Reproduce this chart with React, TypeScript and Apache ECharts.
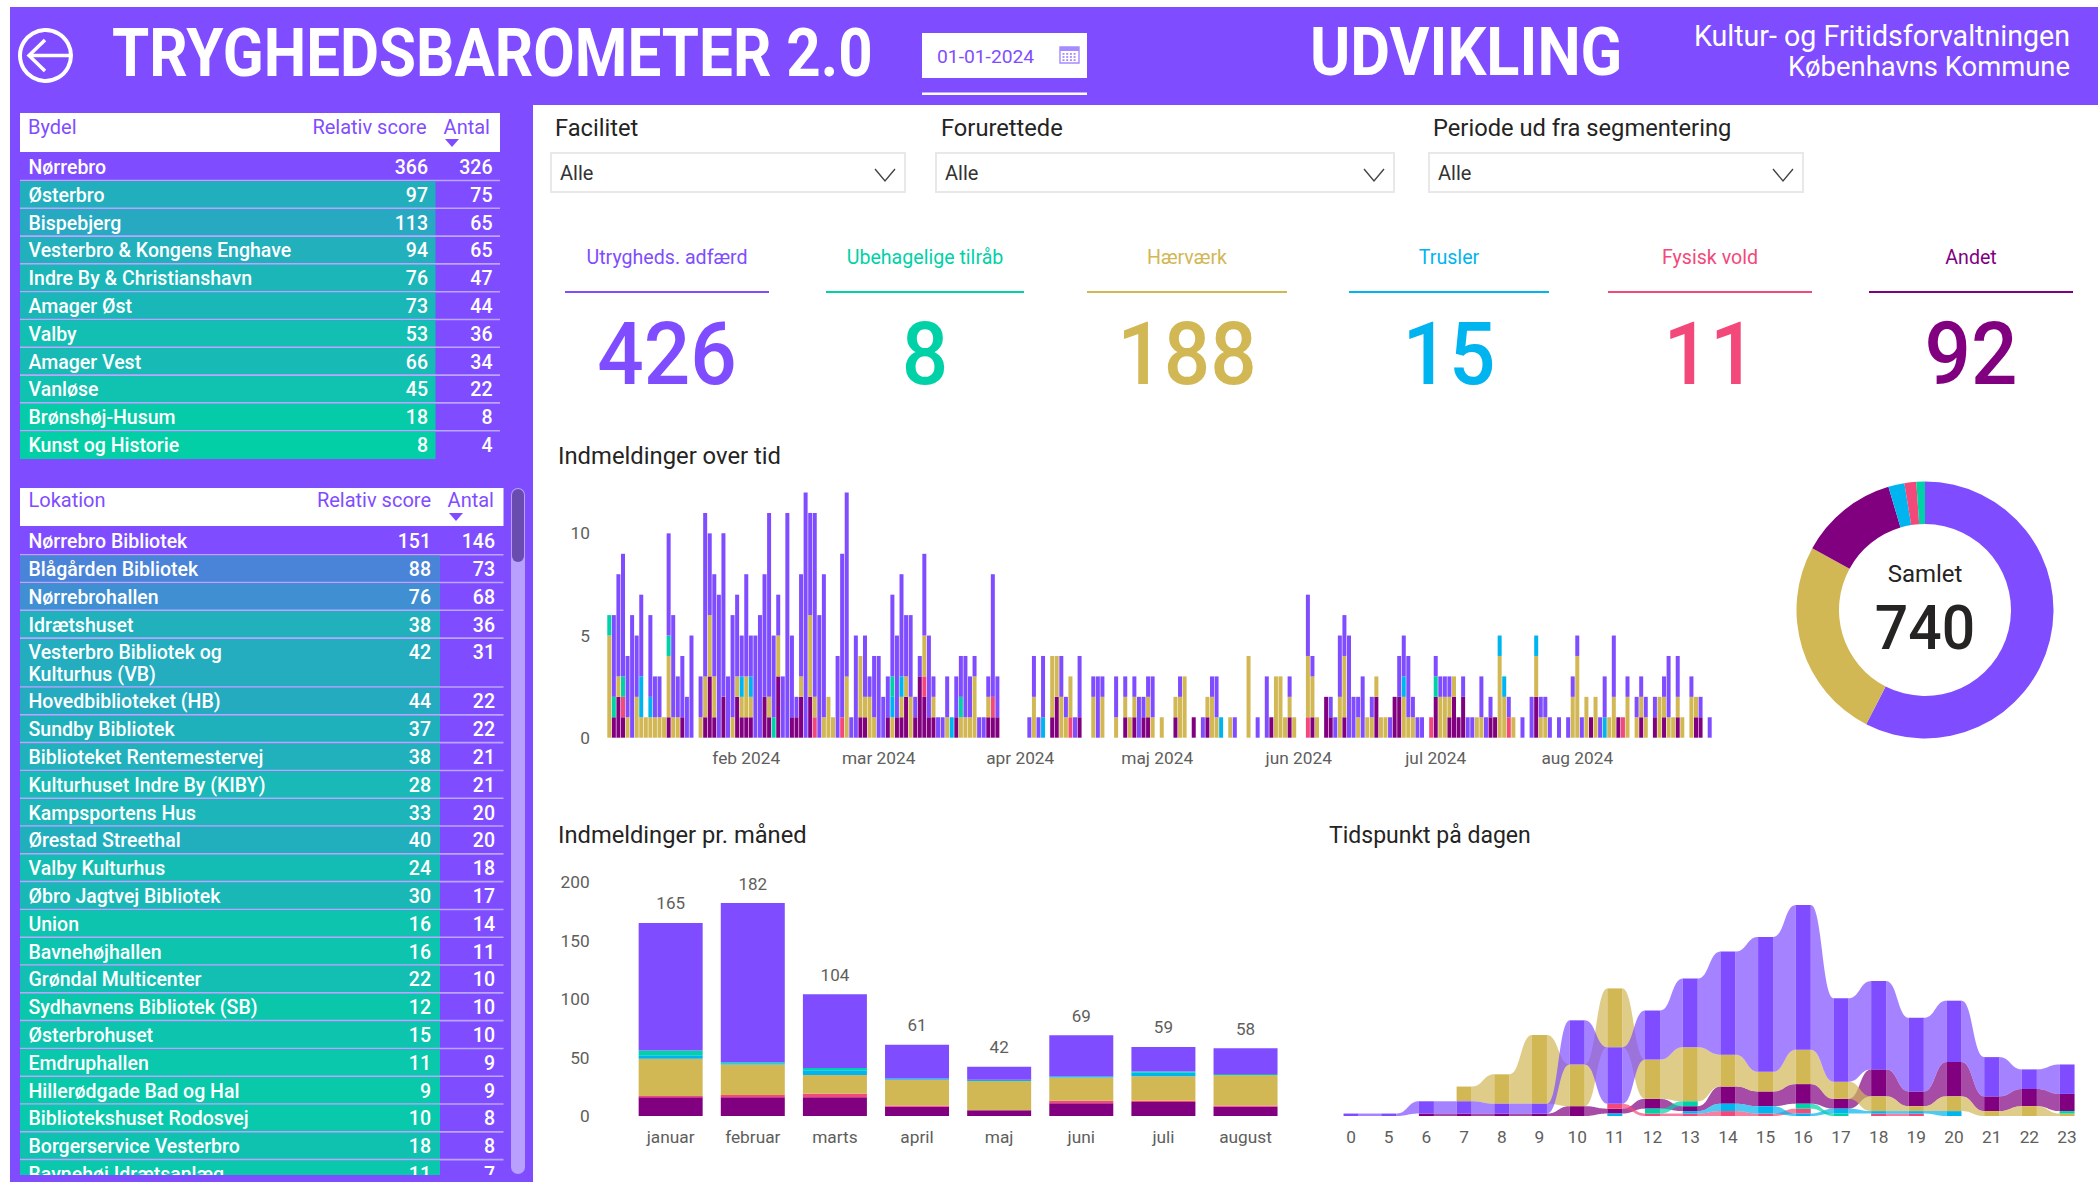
import React, { useEffect, useRef } from "react";
import * as echarts from "echarts";

const FONT = "Roboto";
const VIOLET = "#7F4DFF";
const TEAL = "#00D1A6";
const GOLD = "#D2B755";
const BLUE = "#00B4F0";
const PINK = "#F2497A";
const PLUM = "#800080";
const INK = "#252423";
const AXIS = "#605E5C";
const SEP = "#BCA5FF";

// Tables
const bydelNames = ["Nørrebro", "Østerbro", "Bispebjerg", "Vesterbro & Kongens Enghave", "Indre By & Christianshavn", "Amager Øst", "Valby", "Amager Vest", "Vanløse", "Brønshøj-Husum", "Kunst og Historie"];
const bydelScores = [366, 97, 113, 94, 76, 73, 53, 66, 45, 18, 8];
const bydelAntal = [326, 75, 65, 65, 47, 44, 36, 34, 22, 8, 4];
const lokationNames = ["Nørrebro Bibliotek", "Blågården Bibliotek", "Nørrebrohallen", "Idrætshuset", "Vesterbro Bibliotek og\nKulturhus (VB)", "Hovedbiblioteket (HB)", "Sundby Bibliotek", "Biblioteket Rentemestervej", "Kulturhuset Indre By (KIBY)", "Kampsportens Hus", "Ørestad Streethal", "Valby Kulturhus", "Øbro Jagtvej Bibliotek", "Union", "Bavnehøjhallen", "Grøndal Multicenter", "Sydhavnens Bibliotek (SB)", "Østerbrohuset", "Emdruphallen", "Hillerødgade Bad og Hal", "Bibliotekshuset Rodosvej", "Borgerservice Vesterbro", "Bavnehøj Idrætsanlæg"];
const lokationScores = [151, 88, 76, 38, 42, 44, 37, 38, 28, 33, 40, 24, 30, 16, 16, 22, 12, 15, 11, 9, 10, 18, 11];
const lokationAntal = [146, 73, 68, 36, 31, 22, 22, 21, 21, 20, 20, 18, 17, 14, 11, 10, 10, 10, 9, 9, 8, 8, 7];

// KPI cards
const kpiLabels = ["Utrygheds. adfærd", "Ubehagelige tilråb", "Hærværk", "Trusler", "Fysisk vold", "Andet"];
const kpiValues = [426, 8, 188, 15, 11, 92];
const kpiColors = [VIOLET, TEAL, GOLD, BLUE, PINK, PLUM];

// Daily reports, one code per day from 2 Jan 2024; a=Andet p=Fysisk vold g=Hærværk b=Trusler t=Ubehagelige tilråb v=Utrygheds. adfærd
const dailyJan = ["g5t1", "a1t1v4", "a2g1v5", "a1p1t1v6", "g1v3", "v6", "g2v3", "g1b2v4", "g1", "g1b1v4", "g1v2", "g1v2", "g1", "a1g3t1v5", "g1v5", "g1v2", "a1v3", "v2", "v5", "", "g1v2", "a1g2v8", "a3g3v4", "a1g2v5", "v7", "a2v8", "v3", "g1v5", "a2g1v4", "a1g1b1v2"];
const dailyFeb = ["a1g2v5", "a1g1b1v2", "v5", "v6", "a2v6", "a1g1v9", "t1v4", "a3g2v2", "v3", "v11", "a1v4", "a1v1", "a2g1v5", "v12", "a2g4v5", "p1g1v9", "v6", "g1v7", "g2", "g1", "v4", "p1v8", "g3v9", "v1", "v5", "a1g3", "a1g1v3", "g2v1", "g1v3"];
const dailyMar = ["v4", "v2", "a1v2", "g1b1t1v4", "a1v4", "a1g1b1v5", "a2g1v3", "g2v4", "a1v1", "a3v1", "a2p1g2v4", "a1v4", "a1g1v1", "v1", "v1", "g1v2", "b1", "a1v2", "g1t1v2", "g1v3", "g1v2", "g3v1", "v1", "v1", "a1g1v1", "a1p1v6", "a1v2", "", "", "", ""];
const dailyApr = ["", "", "v1", "g2v2", "v1", "b1v3", "", "a1g3", "a2g2", "g2v2", "g1v1", "p1g2", "v1", "a1v3", "", "", "g2v1", "v3", "g2v1", "", "", "g1v2", "", "a1g1v1", "g1", "a1g1v1", "v2", "a1v1", "a1g1v1", "g1v2"];
const dailyMay = ["", "g1", "", "", "a1g1", "g2v1", "g3", "", "a1", "", "v1", "a1g1", "g2v1", "g1v2", "b1", "", "g1", "v1", "", "", "g4", "", "v1", "", "v3", "a1", "g3", "g3", "g1", "a1g1v1", "g1"];
const dailyJun = ["", "", "p1g3v3", "a1g2v1", "g1", "", "a2", "a1v1", "v1", "g2v3", "a1g3v2", "v5", "v2", "g1v1", "v3", "g1", "g1v1", "a2g1", "g1", "g1", "v1", "a2", "a2v2", "g2b1v2", "g1v3", "g1v1", "v1", "v1", "", "p1"];
const dailyJul = ["a2t1v1", "g2v1", "g2v1", "a1g1v1", "a2g1", "a1", "a2v1", "v1", "v1", "g1", "g1v2", "v1", "a1v1", "a1", "g4b1", "g2b1", "p1v1", "g1", "", "v1", "", "v2", "a2g2b1", "g1v1", "g1v1", "v1", "", "v1", "", "v1", "g2v1"];
const dailyAug = ["g4v1", "v1", "g2", "a1", "g2", "v1", "b1v2", "g1", "g2v3", "a1", "p1", "g2v1", "", "g1v1", "a1g1v1", "g1v1", "", "a1v1", "g2", "a1g1v1", "g1v3", "g1", "a1g1v2", "g1", "", "g2v1", "a1g1", "a1v1", "", "v1"];
const monthTickLabels = ["feb 2024", "mar 2024", "apr 2024", "maj 2024", "jun 2024", "jul 2024", "aug 2024"];

// Monthly reports
const monthNames = ["januar", "februar", "marts", "april", "maj", "juni", "juli", "august"];
const monthTotals = [165, 182, 104, 61, 42, 69, 59, 58];
const monthAndet = [16, 16, 16, 8, 5, 11, 12, 8];
const monthFysisk = [1, 2, 3, 1, 0, 2, 1, 1];
const monthHaervaerk = [32, 26, 16, 22, 25, 20, 21, 26];
const monthTrusler = [3, 1, 4, 1, 1, 1, 3, 1];
const monthTilraab = [4, 1, 2, 0, 0, 0, 1, 0];
const monthAdfaerd = [109, 136, 63, 29, 11, 35, 21, 22];

// Time of day
const hourLabels = ["0", "5", "6", "7", "8", "9", "10", "11", "12", "13", "14", "15", "16", "17", "18", "19", "20", "21", "22", "23"];
const hourAndet = [0, 0, 1, 1, 1, 1, 4, 2, 4, 2, 7, 6, 8, 4, 11, 6, 14, 6, 7, 7];
const hourFysisk = [0, 0, 0, 0, 0, 0, 0, 2, 1, 1, 2, 1, 2, 0, 1, 1, 0, 0, 0, 0];
const hourHaervaerk = [0, 0, 0, 6, 12, 28, 17, 24, 16, 22, 13, 8, 14, 7, 6, 2, 6, 2, 4, 1];
const hourTrusler = [0, 0, 0, 0, 0, 0, 0, 1, 0, 1, 3, 3, 1, 2, 1, 1, 2, 0, 0, 0];
const hourTilraab = [0, 0, 0, 0, 0, 0, 0, 0, 2, 2, 0, 0, 2, 1, 0, 0, 0, 0, 0, 1];
const hourAdfaerd = [1, 1, 5, 5, 4, 4, 18, 23, 20, 28, 42, 55, 59, 34, 36, 30, 25, 16, 8, 12];

const dailyCodes = [...dailyJan, ...dailyFeb, ...dailyMar, ...dailyApr, ...dailyMay, ...dailyJun, ...dailyJul, ...dailyAug];
const countOf = (code: string, key: string) => {
  const m = code.match(new RegExp(key + "(\\d+)"));
  return m ? Number(m[1]) : 0;
};
const stackKeys = [
  { key: "a", name: "Andet", color: PLUM, month: monthAndet },
  { key: "p", name: "Fysisk vold", color: PINK, month: monthFysisk },
  { key: "g", name: "Hærværk", color: GOLD, month: monthHaervaerk },
  { key: "b", name: "Trusler", color: BLUE, month: monthTrusler },
  { key: "t", name: "Ubehagelige tilråb", color: TEAL, month: monthTilraab },
  { key: "v", name: "Utrygheds. adfærd", color: VIOLET, month: monthAdfaerd },
];

const monthStartIndex: Record<number, string> = {};
{
  let c = dailyJan.length;
  [dailyFeb, dailyMar, dailyApr, dailyMay, dailyJun, dailyJul, dailyAug].forEach((m, i) => {
    monthStartIndex[c] = monthTickLabels[i];
    c += m.length;
  });
}

// Ribbon layout from values: rank ascending in each hour
const hourSeries = [
  { values: hourAndet, color: PLUM },
  { values: hourFysisk, color: PINK },
  { values: hourTrusler, color: BLUE },
  { values: hourHaervaerk, color: GOLD },
  { values: hourTilraab, color: TEAL },
  { values: hourAdfaerd, color: VIOLET },
];
const hourStacks = hourLabels.map((_, h) => {
  const order = hourSeries.map((s, i) => ({ i, v: s.values[h] })).filter((o) => o.v > 0).sort((a, b) => a.v - b.v || a.i - b.i);
  const out: Record<number, [number, number]> = {};
  let y = 0;
  order.forEach((o) => {
    out[o.i] = [y, y + o.v];
    y += o.v;
  });
  return out;
});
const ribbonData: number[][] = [];
const ribbonBars: number[][] = [];
hourLabels.forEach((_, h) => {
  hourSeries.forEach((_s, i) => {
    const a = hourStacks[h][i];
    if (a) {
      ribbonBars.push([h, a[0], a[1], i]);
      const b = h + 1 < hourLabels.length ? hourStacks[h + 1][i] : undefined;
      if (b) ribbonData.push([h, a[0], a[1], b[0], b[1], i]);
    }
  });
});

const mixColor = (t: number) => {
  const from = [0, 210, 165];
  const to = [127, 77, 255];
  const c = from.map((f, i) => Math.round(f + (to[i] - f) * t));
  return `rgb(${c[0]},${c[1]},${c[2]})`;
};

const rowsFrom = (names: string[], scores: number[], antal: number[]) => {
  const max = Math.max(...scores);
  let start = 0;
  return names.map((n, i) => {
    const span = n.includes("\n") ? 1.76 : 1;
    const row = { start, end: start + span, name: n, score: scores[i], antal: antal[i], color: mixColor(scores[i] / max) };
    start += span;
    return row;
  });
};

const tableSeries = (gridIndex: number, rows: ReturnType<typeof rowsFrom>, fillWidth: number, scoreRight: number, antalRight: number) => ({
  type: "custom",
  xAxisIndex: gridIndex,
  yAxisIndex: gridIndex,
  clip: true,
  silent: true,
  encode: { x: 2, y: 0 },
  data: rows.map((r, i) => [r.start, r.end, 0, i]),
  renderItem: (params: any, api: any) => {
    const idx = api.value(3);
    const r = rows[idx];
    const cs = params.coordSys;
    const top = api.coord([0, api.value(0)])[1];
    const bottom = api.coord([0, api.value(1)])[1];
    const text = (t: string, x: number, y: number, align: string) => ({
      type: "text",
      style: { text: t, x, y, fill: "#fff", fontFamily: FONT, fontSize: 19.5, fontWeight: 500, align, textAlign: align, verticalAlign: "middle", textVerticalAlign: "middle" },
    });
    const lines = r.name.split("\n");
    const last = idx === rows.length - 1;
    return {
      type: "group",
      children: [
        { type: "rect", shape: { x: cs.x, y: top, width: fillWidth, height: bottom - top }, style: { fill: r.color } },
        ...(last ? [] : [{ type: "rect", shape: { x: cs.x, y: bottom - 1.6, width: cs.width, height: 1.6 }, style: { fill: SEP } }]),
        ...lines.map((l, i) => text(l, cs.x + 8.5, top + 14 + i * 22, "left")),
        text(String(r.score), cs.x + scoreRight, top + 14, "right"),
        text(String(r.antal), cs.x + antalRight, top + 14, "right"),
      ],
    };
  },
});

const txt = (text: string, x: number, y: number, o: any = {}) => ({
  type: "text",
  x,
  y,
  scaleX: o.scaleX ?? 1,
  style: {
    text,
    fill: o.fill ?? INK,
    fontFamily: FONT,
    fontSize: o.size ?? 18,
    fontWeight: o.weight ?? 400,
    align: o.align ?? "left",
    textAlign: o.align ?? "left",
    verticalAlign: "middle",
    textVerticalAlign: "middle",
  },
});
const box = (x: number, y: number, width: number, height: number, fill: string, extra: any = {}) => ({
  type: "rect",
  shape: { x, y, width, height, r: extra.r ?? 0 },
  style: { fill, stroke: extra.stroke, lineWidth: extra.lineWidth },
});
const chevron = (cx: number, cy: number) => ({
  type: "polyline",
  shape: { points: [[cx - 10, cy - 6], [cx, cy + 6], [cx + 10, cy - 6]] },
  style: { stroke: "#444", lineWidth: 1.4, fill: "none" },
});
const triangle = (cx: number, cy: number) => ({
  type: "polygon",
  shape: { points: [[cx - 7, cy - 4], [cx + 7, cy - 4], [cx, cy + 4]] },
  style: { fill: VIOLET },
});
const dropdown = (label: string, labelX: number, x: number, right: number, chevX: number) => [
  txt(label, labelX, 128, { size: 23.7 }),
  box(x, 153, right - x, 39, "#fff", { stroke: "#E8E8E8", lineWidth: 2 }),
  txt("Alle", x + 9, 173, { size: 20, fill: "#333" }),
  chevron(chevX, 175),
];
const calendar = () => {
  const cells: any[] = [box(1060, 47, 19, 16, "#fff", { stroke: "#A68AFF", lineWidth: 1.4 }), box(1060, 47, 19, 4, "#A68AFF")];
  for (let r = 0; r < 3; r++) for (let c = 0; c < 4; c++) cells.push(box(1062.5 + c * 3.7, 53 + r * 3.1, 2, 1.8, "#A68AFF"));
  return cells;
};

const kpiCenters = [667, 925, 1187, 1449, 1710, 1971];
const kpiHalf = [102, 99, 100, 100, 102, 102];

export default function App() {
  const ref = useRef<HTMLDivElement>(null);
  useEffect(() => {
    document.body.style.margin = "0";
    document.body.style.background = "#fff";
    const chart = echarts.init(ref.current!, undefined, { renderer: "svg" });
    const hiddenX = (g: number) => ({ type: "value", gridIndex: g, min: 0, max: 1, show: false });
    const hiddenY = (g: number, max: number) => ({ type: "value", gridIndex: g, min: 0, max, inverse: true, show: false });

    const bydelRows = rowsFrom(bydelNames, bydelScores, bydelAntal);
    const lokationRows = rowsFrom(lokationNames, lokationScores, lokationAntal);

    const axisText = { color: AXIS, fontFamily: FONT, fontSize: 17.3 };

    const option: any = {
      animation: false,
      backgroundColor: "#fff",
      graphic: {
        elements: [
          box(10, 7, 2088, 98, VIOLET),
          box(10, 105, 523, 1077, VIOLET),
          { type: "circle", shape: { cx: 45.5, cy: 55.5, r: 25.5 }, style: { fill: "none", stroke: "#fff", lineWidth: 4 } },
          { type: "polyline", shape: { points: [[45, 40], [29, 55.5], [45, 71]] }, style: { fill: "none", stroke: "#fff", lineWidth: 3.5 } },
          { type: "line", shape: { x1: 29, y1: 55.5, x2: 70, y2: 55.5 }, style: { stroke: "#fff", lineWidth: 3.5 } },
          txt("TRYGHEDSBAROMETER 2.0", 112, 53, { size: 66, weight: 700, fill: "#fff", scaleX: 0.911 }),
          box(922, 33, 165, 45, "#fff"),
          box(922, 92.5, 165, 2.4, "#fff"),
          txt("01-01-2024", 937, 57, { size: 18, fill: VIOLET, scaleX: 1.07 }),
          ...calendar(),
          txt("UDVIKLING", 1310, 53, { size: 66, weight: 700, fill: "#fff", scaleX: 0.928 }),
          txt("Kultur- og Fritidsforvaltningen", 2070, 36, { size: 28.6, fill: "#fff", align: "right" }),
          txt("Københavns Kommune", 2070, 67, { size: 27.4, fill: "#fff", align: "right" }),
          box(20, 113, 480, 39, "#fff"),
          txt("Bydel", 28, 127, { fill: VIOLET, size: 20 }),
          txt("Relativ score", 426.5, 127, { fill: VIOLET, size: 20, align: "right" }),
          txt("Antal", 490, 127, { fill: VIOLET, size: 20, align: "right" }),
          triangle(452, 143),
          box(20, 488, 483.5, 38, "#fff"),
          txt("Lokation", 28.5, 500, { fill: VIOLET, size: 20 }),
          txt("Relativ score", 431, 500, { fill: VIOLET, size: 20, align: "right" }),
          txt("Antal", 494, 500, { fill: VIOLET, size: 20, align: "right" }),
          triangle(456, 517),
          box(511, 488, 14, 686, "#B9A0FF", { r: 7 }),
          box(512, 489, 12, 73, "#6A4BB0", { r: 6 }),
          ...dropdown("Facilitet", 555, 551, 905, 885),
          ...dropdown("Forurettede", 941, 936, 1394, 1374),
          ...dropdown("Periode ud fra segmentering", 1433, 1429, 1803, 1783),
          ...kpiLabels.flatMap((l, i) => [
            txt(l, kpiCenters[i], 257, { fill: kpiColors[i], size: 19.6, align: "center" }),
            box(kpiCenters[i] - kpiHalf[i], 291, kpiHalf[i] * 2, 2, kpiColors[i]),
            txt(String(kpiValues[i]), kpiCenters[i], 354, { fill: kpiColors[i], size: 88, weight: 500, align: "center", scaleX: 0.93 }),
          ]),
          txt("Indmeldinger over tid", 558, 456, { size: 23.8 }),
          txt("Indmeldinger pr. måned", 558, 835, { size: 23.7 }),
          txt("Tidspunkt på dagen", 1329, 835, { size: 23 }),
          txt("Samlet", 1925, 574, { size: 24, align: "center" }),
          txt("740", 1925, 628, { size: 62, weight: 500, align: "center", scaleX: 0.95 }),
        ],
      },
      grid: [
        { left: 20, top: 153.5, width: 480, height: 27.8 * 11 },
        { left: 20, top: 527.7, width: 483.5, height: 647.3 },
        { left: 607, top: 492.5, width: 4.566 * 242, height: 245.2 },
        { left: 629.6, top: 882, width: 657, height: 234 },
        { left: 1332.2, top: 905, width: 753.7, height: 211 },
      ],
      xAxis: [
        hiddenX(0),
        hiddenX(1),
        {
          type: "category",
          gridIndex: 2,
          data: dailyCodes.map((_, i) => String(i)),
          axisLine: { show: false },
          axisTick: { show: false },
          axisLabel: { ...axisText, margin: 12, interval: (i: number) => i in monthStartIndex, formatter: (_: string, i: number) => monthStartIndex[i] ?? "" },
        },
        {
          type: "category",
          gridIndex: 3,
          data: monthNames,
          axisLine: { show: false },
          axisTick: { show: false },
          axisLabel: { ...axisText, margin: 12, interval: 0 },
        },
        {
          type: "category",
          gridIndex: 4,
          data: hourLabels,
          axisLine: { show: false },
          axisTick: { show: false },
          axisLabel: { ...axisText, margin: 12, interval: 0 },
        },
      ],
      yAxis: [
        hiddenY(0, 11),
        hiddenY(1, 647.3 / 27.8),
        {
          type: "value",
          gridIndex: 2,
          min: 0,
          max: 12,
          interval: 5,
          splitLine: { show: false },
          axisLine: { show: false },
          axisTick: { show: false },
          axisLabel: { ...axisText, margin: 17, showMaxLabel: false },
        },
        {
          type: "value",
          gridIndex: 3,
          min: 0,
          max: 200,
          interval: 50,
          splitLine: { show: false },
          axisLine: { show: false },
          axisTick: { show: false },
          axisLabel: { ...axisText, margin: 40 },
        },
        { type: "value", gridIndex: 4, min: 0, max: 86, show: false },
      ],
      series: [
        tableSeries(0, bydelRows, 415.5, 408, 472.5),
        tableSeries(1, lokationRows, 420, 411, 475),
        ...stackKeys.map((s) => ({
          type: "bar",
          name: s.name,
          xAxisIndex: 2,
          yAxisIndex: 2,
          stack: "daily",
          barWidth: 4,
          silent: true,
          itemStyle: { color: s.color },
          data: dailyCodes.map((c) => countOf(c, s.key)),
        })),
        ...stackKeys.map((s) => ({
          type: "bar",
          name: s.name,
          xAxisIndex: 3,
          yAxisIndex: 3,
          stack: "monthly",
          barWidth: 64,
          silent: true,
          itemStyle: { color: s.color },
          label: s.key === "v" ? { show: true, position: "top", distance: 11, color: AXIS, fontFamily: FONT, fontSize: 17, formatter: (p: any) => String(monthTotals[p.dataIndex]) } : { show: false },
          data: s.month,
        })),
        {
          type: "custom",
          xAxisIndex: 4,
          yAxisIndex: 4,
          silent: true,
          encode: { x: 0, y: [1, 2, 3, 4] },
          data: ribbonData,
          renderItem: (_: any, api: any) => {
            const h = api.value(0);
            const half = 7.5;
            const xa = api.coord([h, 0])[0] + half;
            const xb = api.coord([h + 1, 0])[0] - half;
            const mx = (xa + xb) / 2;
            const ya0 = api.coord([h, api.value(1)])[1];
            const ya1 = api.coord([h, api.value(2)])[1];
            const yb0 = api.coord([h, api.value(3)])[1];
            const yb1 = api.coord([h, api.value(4)])[1];
            const curve = (y1: number, y2: number) => {
              const pts: number[][] = [];
              for (let k = 0; k <= 24; k++) {
                const t = k / 24;
                const u = 1 - t;
                pts.push([
                  u * u * u * xa + 3 * u * u * t * mx + 3 * u * t * t * mx + t * t * t * xb,
                  u * u * u * y1 + 3 * u * u * t * y1 + 3 * u * t * t * y2 + t * t * t * y2,
                ]);
              }
              return pts;
            };
            return {
              type: "polygon",
              shape: { points: [...curve(ya1, yb1), ...curve(ya0, yb0).reverse()] },
              style: { fill: hourSeries[api.value(5)].color, opacity: 0.7 },
            };
          },
        },
        {
          type: "custom",
          xAxisIndex: 4,
          yAxisIndex: 4,
          silent: true,
          z: 3,
          encode: { x: 0, y: [1, 2] },
          data: ribbonBars,
          renderItem: (_: any, api: any) => {
            const h = api.value(0);
            const x = api.coord([h, 0])[0] - 7.5;
            const y1 = api.coord([h, api.value(2)])[1];
            const y0 = api.coord([h, api.value(1)])[1];
            return { type: "rect", shape: { x, y: y1, width: 15, height: y0 - y1 }, style: { fill: hourSeries[api.value(3)].color } };
          },
        },
        {
          type: "pie",
          center: [1925, 610],
          radius: [86, 128.5],
          startAngle: 90,
          silent: true,
          label: { show: false },
          labelLine: { show: false },
          data: [0, 2, 5, 3, 4, 1].map((k) => ({ name: kpiLabels[k], value: kpiValues[k], itemStyle: { color: kpiColors[k] } })),
        },
      ],
    };
    chart.setOption(option);
    return () => chart.dispose();
  }, []);
  return <div ref={ref} style={{ width: 2098, height: 1182, overflow: "hidden" }} />;
}
